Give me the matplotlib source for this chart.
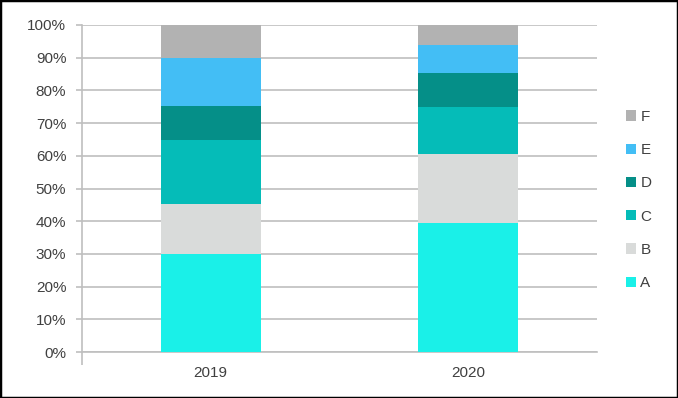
import numpy as np
import matplotlib.pyplot as plt
from matplotlib.patches import Rectangle

plt.rcParams['font.family'] = ['Liberation Sans', 'DejaVu Sans']

# Data (percent shares)
years = ['2019', '2020']
series = ['A', 'B', 'C', 'D', 'E', 'F']
A = [29.9, 39.3]
B = [15.5, 21.3]
C = [19.5, 14.2]
D = [10.4, 10.5]
E = [14.7, 8.6]
F = [10.0, 6.1]
colors = ['#1AF0E8', '#D9DBDA', '#05BCB8', '#058F88', '#43BEF5', '#B2B2B2']

values = [A, B, C, D, E, F]
x = np.arange(len(years))

fig = plt.figure(figsize=(6.78, 3.98), dpi=100)
ax = fig.add_axes([82 / 678, 46 / 398, 515 / 678, 327 / 398])

bottom = np.zeros(len(years))
handles = []
for name, vals, col in zip(series, values, colors):
    h = ax.bar(x, vals, 0.39, bottom=bottom, color=col, label=name, zorder=3)
    handles.append(h)
    bottom += np.array(vals)

ax.set_xlim(-0.5, 1.5)
ax.set_ylim(0, 100)
ax.set_yticks(np.arange(0, 101, 10))
ax.set_yticklabels([f'{v}%' for v in range(0, 101, 10)])
ax.set_xticks(x)
ax.set_xticklabels(years)
ax.set_xticks([-0.5], minor=True)

ax.grid(axis='y', color='#BFBFBF', linewidth=1.2, zorder=0)
for s in ['top', 'right']:
    ax.spines[s].set_visible(False)
for s in ['left', 'bottom']:
    ax.spines[s].set_color('#BFBFBF')
    ax.spines[s].set_linewidth(1.2)

ax.tick_params(axis='y', length=4.3, width=1.2, color='#BFBFBF', pad=7,
               labelsize=11, labelcolor='#404040')
ax.tick_params(axis='x', which='major', length=0, pad=10,
               labelsize=11, labelcolor='#404040')
ax.tick_params(axis='x', which='minor', length=9.5, width=1.2, color='#BFBFBF')

leg = fig.legend(handles[::-1], series[::-1], loc='center left',
                 bbox_to_anchor=(612 / 678, 1 - 200 / 398), frameon=False,
                 handlelength=0.65, handleheight=0.65, handletextpad=0.3,
                 labelspacing=1.26, fontsize=11)
for t in leg.get_texts():
    t.set_color('#404040')

fig.patches.append(Rectangle((0, 0), 1, 1, transform=fig.transFigure,
                             fill=False, edgecolor='black', linewidth=2.5))

fig.savefig('out.png', dpi=100)
